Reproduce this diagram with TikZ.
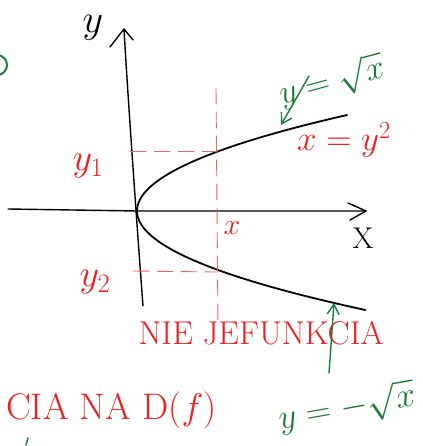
\RequirePackage{fix-cm}
\documentclass[tikz,border=0pt]{standalone}
\usetikzlibrary{arrows.meta}
\definecolor{hred}{RGB}{240,30,30}
\definecolor{hgreen}{RGB}{25,125,55}
\begin{document}
\begin{tikzpicture}[x=1pt,y=-1pt,line cap=round,line join=round,
  axisline/.style={line width=1.4pt,black},
  graph/.style={line width=1.8pt,black},
  guide/.style={hred!70,line width=0.9pt,dash pattern=on 16pt off 8pt},
  redtxt/.style={text=hred,inner sep=0pt},
  greentxt/.style={text=hgreen,inner sep=0pt},
  greenarrow/.style={hgreen,line width=1.4pt,-{Straight Barb[length=10pt,width=12pt,line width=1.4pt]}},
  fs/.style={font=\fontsize{#1}{#1}\selectfont}]
\useasboundingbox (0,0) rectangle (422,446);
\begin{scope}
\clip (0,0) rectangle (422,446);
% axes
\coordinate (O) at (137,211);
\coordinate (xend) at (366,211);
\coordinate (yend) at (124,29);
\draw[axisline] (8,209) -- (O) -- (xend);
\draw[axisline] (348,203) -- (xend) -- (350,220);
\draw[axisline] (143,306) .. controls (138,240) and (128,100) .. (yend);
\draw[axisline] (110,47) -- (yend) -- (133,40);
% curves
\draw[graph] plot[domain=0:96,samples=60,smooth] ({137+0.0228*\x*\x},{211-\x});
\draw[graph] plot[domain=0:99,samples=60,smooth] ({137+0.0233*\x*\x},{211+\x});
\coordinate (up) at (281,125);
\coordinate (low) at (334,303);
% guides
\draw[guide] (216,88) -- (218,325);
\draw[guide] (130,151) -- (216,151);
\draw[guide] (133,271) -- (216,272);
% black labels
\node[fs=40,inner sep=0pt] (ylab) at (93,28) {$y$};
\node[fs=30,inner sep=0pt] (Xlab) at (363,238) {X};
% red labels
\node[redtxt,fs=38] (y1) at (88,166) {$y_1$};
\node[redtxt,fs=38] (y2) at (95,282) {$y_2$};
\node[redtxt,fs=30] (xr) at (232,228) {$x$};
\node[redtxt,fs=35] (xy) at (344,140) {$x=y^2$};
\node[redtxt,fs=33] (nie) at (261,333) {NIE JEFUNKCIA};
\node[redtxt,fs=37,anchor=west] (cia) at (6,410) {CIA NA D($f$)};
% green labels and arrows
\node[greentxt,fs=34,rotate=15] (sq1) at (332,82) {$y=\sqrt{x}$};
\coordinate (a1) at (309,76);
\draw[greenarrow] (a1) -- (up);
\node[greentxt,fs=35,rotate=10] (sq2) at (347,408) {$y=-\sqrt{x}$};
\coordinate (a2) at (329,373);
\draw[greenarrow] (a2) -- (low);
\draw[hgreen,line width=2pt] (-3,65) circle (10);
\draw[hgreen,line width=1.5pt] (26,445) -- (28,438);
\end{scope}
\end{tikzpicture}
\end{document}
